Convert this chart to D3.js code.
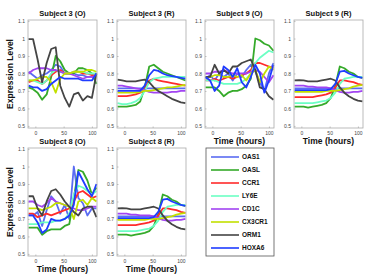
<!DOCTYPE html>
<html>
<head>
<meta charset="utf-8">
<script src="https://cdn.jsdelivr.net/npm/d3@7"></script>
<style>
  body { margin: 0; background: #fff; }
  svg { font-family: "Liberation Sans", Arial, sans-serif; }
  .tick text { fill: #444; font-size: 5px; }
  .ttl { font-weight: bold; font-size: 7.5px; fill: #111; }
  .lab { font-weight: bold; font-size: 8.5px; fill: #111; }
  .leg { font-weight: bold; font-size: 6.5px; fill: #111; }
</style>
</head>
<body>
<div id="viz"></div>
<script>
var times = [-12, -4, 4, 12, 20, 28, 36, 44, 52, 60, 68, 76, 84, 92, 100, 108];
var genes = ['OAS1', 'OASL', 'CCR1', 'LY6E', 'CD1C', 'CX3CR1', 'ORM1', 'HOXA6'];
var geneColors = ['#5a6cf2', '#35aa2a', '#ff2b2b', '#6cffc4', '#a244f2', '#c2e000', '#454545', '#1f3cff'];
var xTicks = [0, 50, 100];
var yTicks = [0.5, 0.6, 0.7, 0.8, 0.9, 1, 1.1];
var titles = ['Subject 3 (O)', 'Subject 3 (R)', 'Subject 9 (O)', 'Subject 9 (R)', 'Subject 8 (O)', 'Subject 8 (R)'];

// one row per gene, same order as genes
var subj3O = [
  [0.81, 0.79, 0.77, 0.79, 0.80, 0.82, 0.85, 0.84, 0.80, 0.80, 0.80, 0.79, 0.79, 0.78, 0.78, 0.80],
  [0.72, 0.71, 0.69, 0.65, 0.68, 0.78, 0.90, 0.87, 0.82, 0.80, 0.80, 0.83, 0.83, 0.82, 0.80, 0.74],
  [0.75, 0.76, 0.76, 0.74, 0.76, 0.79, 0.81, 0.82, 0.80, 0.80, 0.81, 0.81, 0.80, 0.80, 0.79, 0.79],
  [0.76, 0.76, 0.75, 0.74, 0.76, 0.80, 0.82, 0.81, 0.80, 0.80, 0.81, 0.81, 0.81, 0.80, 0.80, 0.80],
  [0.80, 0.82, 0.83, 0.83, 0.83, 0.82, 0.82, 0.81, 0.80, 0.80, 0.79, 0.78, 0.77, 0.78, 0.78, 0.79],
  [0.76, 0.76, 0.77, 0.78, 0.78, 0.75, 0.69, 0.77, 0.80, 0.80, 0.81, 0.81, 0.81, 0.82, 0.82, 0.81],
  [0.996, 0.996, 0.88, 0.75, 0.86, 0.94, 0.95, 0.73, 0.66, 0.61, 0.68, 0.69, 0.645, 0.67, 0.66, 0.80],
  [0.73, 0.72, 0.72, 0.70, 0.71, 0.74, 0.76, 0.78, 0.77, 0.77, 0.77, 0.77, 0.76, 0.76, 0.76, 0.80]
];
var subj3R = [
  [0.715, 0.715, 0.715, 0.715, 0.715, 0.715, 0.715, 0.715, 0.715, 0.715, 0.715, 0.715, 0.715, 0.715, 0.715, 0.715],
  [0.61, 0.61, 0.61, 0.615, 0.62, 0.64, 0.72, 0.84, 0.85, 0.83, 0.81, 0.80, 0.79, 0.78, 0.77, 0.76],
  [0.67, 0.67, 0.67, 0.675, 0.68, 0.69, 0.71, 0.76, 0.77, 0.76, 0.755, 0.75, 0.745, 0.74, 0.735, 0.73],
  [0.63, 0.625, 0.625, 0.63, 0.64, 0.66, 0.70, 0.75, 0.77, 0.775, 0.78, 0.78, 0.78, 0.78, 0.78, 0.78],
  [0.73, 0.73, 0.725, 0.72, 0.715, 0.71, 0.705, 0.695, 0.69, 0.69, 0.69, 0.69, 0.695, 0.695, 0.70, 0.70],
  [0.69, 0.69, 0.69, 0.69, 0.69, 0.695, 0.70, 0.70, 0.705, 0.71, 0.715, 0.72, 0.72, 0.725, 0.73, 0.735],
  [0.765, 0.76, 0.755, 0.755, 0.755, 0.76, 0.765, 0.75, 0.72, 0.70, 0.685, 0.67, 0.655, 0.645, 0.635, 0.63],
  [0.70, 0.70, 0.70, 0.70, 0.70, 0.70, 0.73, 0.79, 0.82, 0.815, 0.80, 0.79, 0.785, 0.78, 0.775, 0.77]
];
var subj9O = [
  [0.77, 0.79, 0.76, 0.80, 0.78, 0.80, 0.76, 0.80, 0.78, 0.82, 0.85, 0.81, 0.75, 0.70, 0.80, 0.86],
  [0.72, 0.72, 0.72, 0.70, 0.67, 0.69, 0.70, 0.70, 0.71, 0.73, 0.77, 1.00, 0.99, 0.97, 0.96, 0.93],
  [0.76, 0.76, 0.77, 0.76, 0.77, 0.78, 0.77, 0.78, 0.79, 0.80, 0.82, 0.86, 0.86, 0.85, 0.84, 0.83],
  [0.76, 0.76, 0.76, 0.75, 0.74, 0.74, 0.74, 0.74, 0.75, 0.77, 0.80, 0.86, 0.89, 0.91, 0.93, 0.92],
  [0.80, 0.80, 0.81, 0.81, 0.82, 0.81, 0.80, 0.80, 0.80, 0.80, 0.81, 0.82, 0.81, 0.78, 0.75, 0.79],
  [0.78, 0.78, 0.79, 0.79, 0.78, 0.78, 0.79, 0.78, 0.79, 0.76, 0.80, 0.82, 0.75, 0.80, 0.84, 0.82],
  [0.78, 0.78, 0.85, 0.80, 0.82, 0.80, 0.84, 0.84, 0.86, 0.87, 0.88, 0.82, 0.72, 0.71, 0.67, 0.65],
  [0.78, 0.76, 0.70, 0.73, 0.84, 0.82, 0.78, 0.83, 0.75, 0.72, 0.78, 0.85, 0.80, 0.69, 0.76, 0.85]
];
var subj9R = [
  [0.715, 0.715, 0.715, 0.715, 0.715, 0.715, 0.715, 0.715, 0.715, 0.715, 0.715, 0.715, 0.715, 0.715, 0.715, 0.715],
  [0.61, 0.61, 0.61, 0.605, 0.61, 0.615, 0.62, 0.63, 0.66, 0.73, 0.84, 0.83, 0.81, 0.80, 0.78, 0.775],
  [0.665, 0.665, 0.665, 0.665, 0.665, 0.67, 0.675, 0.68, 0.69, 0.72, 0.76, 0.76, 0.755, 0.75, 0.74, 0.735],
  [0.63, 0.63, 0.63, 0.63, 0.63, 0.635, 0.64, 0.645, 0.66, 0.69, 0.74, 0.77, 0.775, 0.78, 0.78, 0.78],
  [0.73, 0.73, 0.73, 0.725, 0.725, 0.72, 0.72, 0.72, 0.715, 0.705, 0.695, 0.69, 0.69, 0.695, 0.695, 0.70],
  [0.695, 0.695, 0.695, 0.695, 0.695, 0.695, 0.695, 0.70, 0.70, 0.70, 0.705, 0.71, 0.715, 0.725, 0.73, 0.735],
  [0.76, 0.762, 0.76, 0.755, 0.755, 0.755, 0.76, 0.765, 0.77, 0.76, 0.72, 0.69, 0.67, 0.655, 0.645, 0.64],
  [0.705, 0.705, 0.705, 0.705, 0.705, 0.705, 0.705, 0.705, 0.71, 0.74, 0.81, 0.815, 0.80, 0.79, 0.78, 0.775]
];
var subj8O = [
  [0.72, 0.72, 0.74, 0.66, 0.75, 0.83, 0.80, 0.73, 0.78, 0.70, 1.00, 0.82, 0.79, 0.72, 0.76, 0.76],
  [0.65, 0.65, 0.65, 0.61, 0.63, 0.64, 0.64, 0.64, 0.66, 0.67, 0.82, 0.98, 0.97, 0.92, 0.84, 0.88],
  [0.73, 0.73, 0.71, 0.72, 0.73, 0.72, 0.73, 0.74, 0.75, 0.76, 0.80, 0.85, 0.86, 0.84, 0.82, 0.83],
  [0.67, 0.67, 0.67, 0.68, 0.68, 0.68, 0.69, 0.69, 0.70, 0.73, 0.84, 0.89, 0.88, 0.86, 0.84, 0.86],
  [0.80, 0.80, 0.78, 0.77, 0.79, 0.82, 0.80, 0.79, 0.78, 0.77, 0.76, 0.75, 0.75, 0.76, 0.77, 0.77],
  [0.76, 0.76, 0.76, 0.75, 0.76, 0.77, 0.79, 0.79, 0.78, 0.77, 0.70, 0.80, 0.81, 0.78, 0.82, 0.80],
  [0.83, 0.83, 0.76, 0.72, 0.80, 0.86, 0.87, 0.84, 0.80, 0.77, 0.74, 0.72, 0.76, 0.77, 0.77, 0.71],
  [0.72, 0.72, 0.68, 0.62, 0.64, 0.70, 0.69, 0.69, 0.70, 0.72, 0.78, 0.97, 0.92, 0.87, 0.83, 0.90]
];
var subj8R = [
  [0.715, 0.715, 0.715, 0.715, 0.715, 0.715, 0.715, 0.715, 0.715, 0.715, 0.715, 0.715, 0.715, 0.715, 0.715, 0.715],
  [0.61, 0.61, 0.61, 0.605, 0.61, 0.615, 0.62, 0.63, 0.66, 0.73, 0.84, 0.83, 0.81, 0.80, 0.78, 0.775],
  [0.665, 0.665, 0.665, 0.665, 0.665, 0.67, 0.675, 0.68, 0.69, 0.72, 0.76, 0.76, 0.755, 0.75, 0.74, 0.735],
  [0.63, 0.63, 0.63, 0.63, 0.63, 0.635, 0.64, 0.645, 0.66, 0.69, 0.74, 0.77, 0.775, 0.78, 0.78, 0.78],
  [0.73, 0.73, 0.73, 0.725, 0.725, 0.72, 0.72, 0.72, 0.715, 0.705, 0.695, 0.69, 0.69, 0.695, 0.695, 0.70],
  [0.695, 0.695, 0.695, 0.695, 0.695, 0.695, 0.695, 0.70, 0.70, 0.70, 0.705, 0.71, 0.715, 0.725, 0.73, 0.735],
  [0.76, 0.762, 0.76, 0.755, 0.755, 0.755, 0.76, 0.765, 0.77, 0.76, 0.72, 0.69, 0.67, 0.655, 0.645, 0.64],
  [0.705, 0.705, 0.705, 0.705, 0.705, 0.705, 0.705, 0.705, 0.71, 0.74, 0.81, 0.815, 0.80, 0.79, 0.78, 0.775]
];
var panels = [subj3O, subj3R, subj9O, subj9R, subj8O, subj8R];

var W = 367, H = 276;
var lefts = [28, 117, 205, 294];
var tops = [20, 148];
var pw = 69, ph = 108;

var svg = d3.select('#viz').append('svg')
  .attr('width', W)
  .attr('height', H);

var x = d3.scaleLinear().domain([-13, 109]).range([0, pw]);
var y = d3.scaleLinear().domain([0.488, 1.106]).range([ph, 0]);
var line = d3.line()
  .x(function (d, i) { return x(times[i]); })
  .y(function (d) { return y(d); });

panels.forEach(function (pdata, k) {
  var col = k % 4, row = Math.floor(k / 4);
  var g = svg.append('g')
    .attr('transform', 'translate(' + lefts[col] + ',' + tops[row] + ')');

  var xa = g.append('g').attr('transform', 'translate(0,' + ph + ')')
    .call(d3.axisBottom(x).tickValues(xTicks).tickSize(-1.5).tickPadding(3));
  var ya = g.append('g')
    .call(d3.axisLeft(y).tickValues(yTicks).tickSize(-1.5).tickPadding(3)
      .tickFormat(function (d) { return d3.format('~g')(d); }));
  [xa, ya].forEach(function (a) {
    a.select('.domain').remove();
    a.selectAll('line').attr('stroke', '#999').attr('stroke-width', 0.6);
  });

  g.selectAll('path.series')
    .data(pdata)
    .enter().append('path')
    .attr('class', 'series')
    .attr('fill', 'none')
    .attr('stroke', function (d, i) { return geneColors[i]; })
    .attr('stroke-width', 1.8)
    .attr('stroke-linejoin', 'round')
    .attr('d', line);

  g.append('rect')
    .attr('width', pw).attr('height', ph)
    .attr('fill', 'none').attr('stroke', '#aaa').attr('stroke-width', 0.8);

  g.append('text').attr('class', 'ttl')
    .attr('x', pw / 2).attr('y', -4)
    .attr('text-anchor', 'middle')
    .text(titles[k]);

  if (col == 0) {
    g.append('text').attr('class', 'lab')
      .attr('transform', 'translate(-15,' + (ph / 2) + ') rotate(-90)')
      .attr('text-anchor', 'middle')
      .text('Expression Level');
  }
  // bottom row, or top row panels with nothing beneath
  if (row == 1 || col >= 2) {
    g.append('text').attr('class', 'lab')
      .attr('x', pw / 2).attr('y', ph + 16)
      .attr('text-anchor', 'middle')
      .text('Time (hours)');
  }
});

// legend
var leg = svg.append('g').attr('transform', 'translate(206,148)');
leg.append('rect')
  .attr('width', 68).attr('height', 108)
  .attr('fill', '#fff').attr('stroke', '#555').attr('stroke-width', 0.8);
var items = leg.selectAll('g.item')
  .data(genes)
  .enter().append('g')
  .attr('class', 'item')
  .attr('transform', function (d, i) { return 'translate(0,' + (9 + i * 13) + ')'; });
items.append('line')
  .attr('x1', 5).attr('x2', 33)
  .attr('stroke', function (d, i) { return geneColors[i]; })
  .attr('stroke-width', 1.6);
items.append('text').attr('class', 'leg')
  .attr('x', 36).attr('dy', '0.35em')
  .text(function (d) { return d; });
</script>
</body>
</html>
